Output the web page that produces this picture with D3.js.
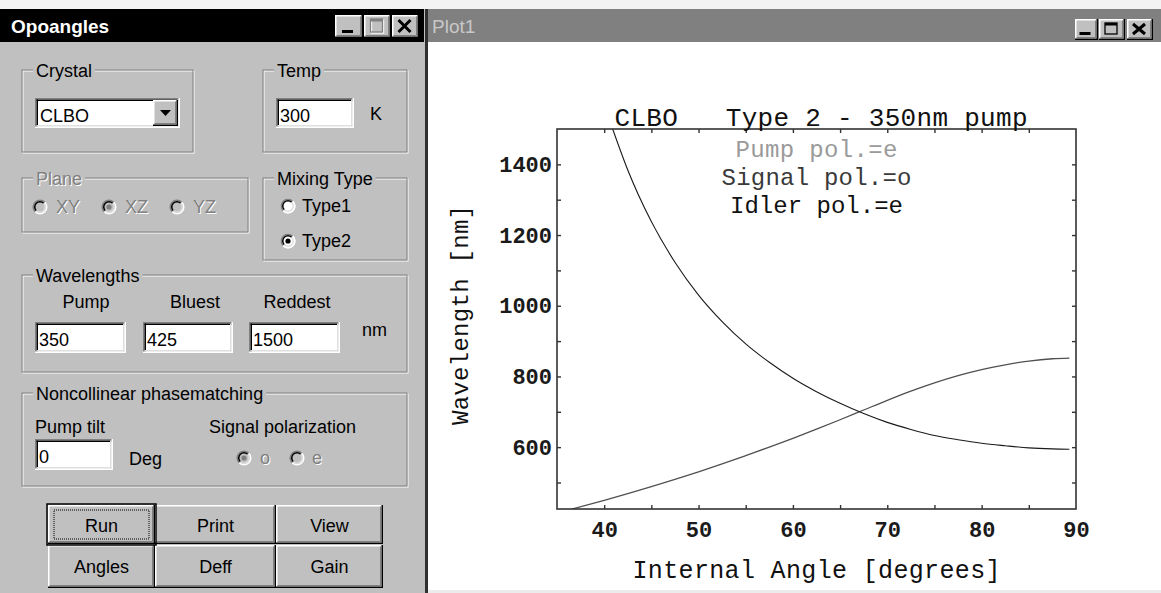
<!DOCTYPE html>
<html>
<head>
<meta charset="utf-8">
<title>Opoangles</title>
<script src="https://cdn.jsdelivr.net/npm/d3@7"></script>
<style>
  html, body { margin: 0; padding: 0; background: #fff; overflow: hidden; }
  svg { display: block; }
  .ui { font-family: "Liberation Sans", Arial, sans-serif; }
  .mono { font-family: "Liberation Mono", "DejaVu Sans Mono", monospace; }
</style>
</head>
<body>
<svg id="screen" width="1161" height="593"></svg>
<script>
// ---- Tuning curves (internal angle in degrees, wavelength in nm) ----
const signalAngle      = [36.6, 40, 42.5, 45, 47.5, 50, 52.5, 55, 57.5, 60, 62.5, 65, 67.5, 70, 72.5, 75, 77.5, 80, 82.5, 85, 87.5, 89.3];
const signalWavelength = [425, 449.5, 468.5, 488, 508.5, 530, 552.5, 576, 600, 625, 651, 677.5, 705, 732.5, 758.5, 782, 802.5, 819.5, 833, 843.5, 850, 852];
const idlerAngle       = [40.9, 42.5, 45, 47.5, 50, 52.5, 55, 57.5, 60, 62.5, 65, 67.5, 70, 72.5, 75, 77.5, 80, 82.5, 85, 87.5, 89.3];
const idlerWavelength  = [1500, 1384, 1238, 1123, 1030, 955, 892, 840, 795, 757, 724, 695, 670, 650, 633, 621, 611, 604, 598, 595, 594];

// ---- Axes ----
const angleDomain      = [35, 90];
const wavelengthDomain = [425, 1500];
const angleTickLabels  = [40, 50, 60, 70, 80, 90];
const angleTickMarks   = [40, 45, 50, 55, 60, 65, 70, 75, 80, 85];
const wlTickLabels     = [600, 800, 1000, 1200, 1400];
const wlTickMarks      = [500, 600, 700, 800, 900, 1000, 1100, 1200, 1300, 1400];

// ---- Texts ----
const plotTitle   = "CLBO   Type 2 - 350nm pump";
const legendLines = ["Pump pol.=e", "Signal pol.=o", "Idler pol.=e"];
const xAxisTitle  = "Internal Angle [degrees]";
const yAxisTitle  = "Wavelength [nm]";

const svg = d3.select("#screen");
const W = 1161, H = 593;

// ---------- small widget helpers ----------
function line(g, x1, y1, x2, y2, c, w = 1.5) {
  g.append("line").attr("x1", x1).attr("y1", y1).attr("x2", x2).attr("y2", y2)
    .attr("stroke", c).attr("stroke-width", w);
}
function text(g, x, y, s, opt = {}) {
  const t = g.append("text").attr("class", opt.cls || "ui").attr("x", x).attr("y", y)
    .attr("fill", opt.fill || "#000").attr("font-size", opt.size || 18).text(s);
  if (opt.anchor) t.attr("text-anchor", opt.anchor);
  if (opt.weight) t.attr("font-weight", opt.weight);
  return t;
}
function disabledText(g, x, y, s, opt = {}) {
  text(g, x + 1, y + 1, s, Object.assign({}, opt, { fill: "#fff" }));
  return text(g, x, y, s, Object.assign({}, opt, { fill: "#808080" }));
}
function raised(g, x, y, w, h) {
  g.append("rect").attr("x", x).attr("y", y).attr("width", w).attr("height", h).attr("fill", "#c0c0c0");
  line(g, x, y + 0.75, x + w, y + 0.75, "#fff");
  line(g, x + 0.75, y, x + 0.75, y + h, "#fff");
  line(g, x, y + h - 0.75, x + w, y + h - 0.75, "#000");
  line(g, x + w - 0.75, y, x + w - 0.75, y + h, "#000");
  line(g, x + 1.5, y + h - 2.25, x + w - 1.5, y + h - 2.25, "#808080");
  line(g, x + w - 2.25, y + 1.5, x + w - 2.25, y + h - 1.5, "#808080");
}
function sunken(g, x, y, w, h) {
  g.append("rect").attr("x", x).attr("y", y).attr("width", w).attr("height", h).attr("fill", "#fff");
  line(g, x, y + 0.75, x + w, y + 0.75, "#808080");
  line(g, x + 0.75, y, x + 0.75, y + h, "#808080");
  line(g, x + 1.5, y + 2.25, x + w - 1.5, y + 2.25, "#000");
  line(g, x + 2.25, y + 1.5, x + 2.25, y + h - 1.5, "#000");
  line(g, x, y + h - 0.75, x + w, y + h - 0.75, "#fff");
  line(g, x + w - 0.75, y, x + w - 0.75, y + h, "#fff");
  line(g, x + 1.5, y + h - 2.25, x + w - 1.5, y + h - 2.25, "#dfdfdf");
  line(g, x + w - 2.25, y + 1.5, x + w - 2.25, y + h - 1.5, "#dfdfdf");
}
function groupBox(g, x1, y1, x2, y2, label, disabled) {
  g.append("rect").attr("x", x1 + 1).attr("y", y1 + 1).attr("width", x2 - x1).attr("height", y2 - y1)
    .attr("fill", "none").attr("stroke", "#fff").attr("stroke-width", 1);
  g.append("rect").attr("x", x1).attr("y", y1).attr("width", x2 - x1).attr("height", y2 - y1)
    .attr("fill", "none").attr("stroke", "#808080").attr("stroke-width", 1);
  const bg = g.append("rect").attr("fill", "#c0c0c0");
  const t = disabled ? disabledText(g, x1 + 14, y1 + 7, label) : text(g, x1 + 14, y1 + 7, label);
  const len = t.node().getComputedTextLength();
  bg.attr("x", x1 + 11).attr("y", y1 - 8).attr("width", len + 6).attr("height", 16);
}
function radio(g, cx, cy, checked, disabled) {
  const r = 7.5;
  const at = g.append("g").attr("transform", `translate(${cx},${cy})`);
  at.append("circle").attr("r", r).attr("fill", disabled ? "#c0c0c0" : "#fff");
  const outer = d3.arc().innerRadius(r - 1.5).outerRadius(r);
  const inner = d3.arc().innerRadius(r - 3).outerRadius(r - 1.5);
  at.append("path").attr("d", outer({ startAngle: -3 * Math.PI / 4, endAngle: Math.PI / 4 })).attr("fill", "#808080");
  at.append("path").attr("d", inner({ startAngle: -3 * Math.PI / 4, endAngle: Math.PI / 4 })).attr("fill", "#000");
  at.append("path").attr("d", outer({ startAngle: Math.PI / 4, endAngle: 5 * Math.PI / 4 })).attr("fill", "#fff");
  at.append("path").attr("d", inner({ startAngle: Math.PI / 4, endAngle: 5 * Math.PI / 4 })).attr("fill", "#dfdfdf");
  if (checked) at.append("circle").attr("r", 2.6).attr("fill", disabled ? "#808080" : "#000");
}
function captionButton(g, x, y, w, h, kind, disabled) {
  raised(g, x, y, w, h);
  const col = disabled ? "#808080" : "#000";
  const cx = x + w / 2 - 1;
  if (kind === "min") {
    g.append("rect").attr("x", cx - 6).attr("y", y + h - 8).attr("width", 11).attr("height", 3).attr("fill", col);
  } else if (kind === "max") {
    if (disabled) {
      g.append("rect").attr("x", cx - 5).attr("y", y + 5).attr("width", 12).attr("height", h - 10)
        .attr("fill", "none").attr("stroke", "#fff").attr("stroke-width", 1.3);
    }
    g.append("rect").attr("x", cx - 6).attr("y", y + 4).attr("width", 12).attr("height", h - 10)
      .attr("fill", "none").attr("stroke", col).attr("stroke-width", 1.3);
    g.append("rect").attr("x", cx - 6).attr("y", y + 4).attr("width", 12).attr("height", 2.5).attr("fill", col);
  } else {
    g.append("path").attr("d", `M${cx - 6},${y + 5}L${cx + 6},${y + h - 6}M${cx + 6},${y + 5}L${cx - 6},${y + h - 6}`)
      .attr("stroke", col).attr("stroke-width", 3).attr("fill", "none");
  }
}

// ---------- desktop ----------
svg.append("rect").attr("width", W).attr("height", H).attr("fill", "#fff");
svg.append("rect").attr("width", W).attr("height", 9).attr("fill", "#f3f3f3");

// ---------- Opoangles dialog ----------
const dlg = svg.append("g");
dlg.append("rect").attr("x", 0).attr("y", 9).attr("width", 425).attr("height", H - 9).attr("fill", "#c0c0c0");
dlg.append("rect").attr("x", 0).attr("y", 9).attr("width", 424).attr("height", 33).attr("fill", "#000");
text(dlg, 11, 33, "Opoangles", { fill: "#fff", weight: "bold", size: 19 });
captionButton(dlg, 335, 15, 28, 23, "min");
captionButton(dlg, 364, 15, 27, 23, "max", true);
captionButton(dlg, 392, 15, 27, 23, "close");

// Crystal
groupBox(dlg, 22, 70, 193, 152, "Crystal");
sunken(dlg, 35, 98, 145, 30);
raised(dlg, 153, 100, 25, 26);
dlg.append("path").attr("d", "M160,110L171,110L165.5,116Z").attr("fill", "#000");
text(dlg, 40, 122, "CLBO");

// Temp
groupBox(dlg, 263, 70, 407, 152, "Temp");
sunken(dlg, 276, 98, 78, 30);
text(dlg, 280, 122, "300");
text(dlg, 370, 120, "K");

// Plane (disabled)
groupBox(dlg, 22, 178, 248, 232, "Plane", true);
[[40, "XY", false], [109, "XZ", true], [177, "YZ", false]].forEach(([cx, s, c]) => {
  radio(dlg, cx, 207, c, true);
  disabledText(dlg, cx + 16, 213, s);
});

// Mixing Type
groupBox(dlg, 263, 178, 407, 260, "Mixing Type");
radio(dlg, 288, 206, false, false);
text(dlg, 302, 212, "Type1");
radio(dlg, 288, 241, true, false);
text(dlg, 302, 247, "Type2");

// Wavelengths
groupBox(dlg, 22, 275, 407, 372, "Wavelengths");
text(dlg, 86, 308, "Pump", { anchor: "middle" });
text(dlg, 195, 308, "Bluest", { anchor: "middle" });
text(dlg, 297, 308, "Reddest", { anchor: "middle" });
[[35, 91, "350"], [143, 90, "425"], [249, 91, "1500"]].forEach(([x, w, v]) => {
  sunken(dlg, x, 322, w, 31);
  text(dlg, x + 4, 346, v);
});
text(dlg, 362, 336, "nm");

// Noncollinear phasematching
groupBox(dlg, 22, 393, 407, 486, "Noncollinear phasematching");
text(dlg, 35, 433, "Pump tilt");
text(dlg, 209, 433, "Signal polarization");
sunken(dlg, 35, 439, 78, 31);
text(dlg, 39, 463, "0");
text(dlg, 129, 465, "Deg");
radio(dlg, 244, 458, true, true);
disabledText(dlg, 260, 464, "o");
radio(dlg, 297, 458, false, true);
disabledText(dlg, 312, 464, "e");

// Buttons
[[48, 505, 107, 39, "Run"], [155, 505, 121, 39, "Print"], [276, 505, 107, 39, "View"],
 [48, 545, 107, 43, "Angles"], [155, 545, 121, 43, "Deff"], [276, 545, 107, 43, "Gain"]]
  .forEach(([x, y, w, h, s]) => {
    raised(dlg, x, y, w, h);
    text(dlg, x + w / 2, y + (h > 40 ? 28 : 27), s, { anchor: "middle" });
  });
dlg.append("rect").attr("x", 47).attr("y", 504).attr("width", 109).attr("height", 41)
  .attr("fill", "none").attr("stroke", "#000").attr("stroke-width", 1.5);
dlg.append("rect").attr("x", 54).attr("y", 510).attr("width", 95).attr("height", 29)
  .attr("fill", "none").attr("stroke", "#000").attr("stroke-width", 1).attr("stroke-dasharray", "1,1");

// window edge between the two frames
svg.append("rect").attr("x", 425).attr("y", 9).attr("width", 3).attr("height", H - 9).attr("fill", "#303030");

// ---------- Plot1 window ----------
const pw = svg.append("g");
pw.append("rect").attr("x", 428).attr("y", 9).attr("width", W - 428).attr("height", 33).attr("fill", "#808080");
text(pw, 432, 33, "Plot1", { fill: "#c8c8c8", size: 19 });
captionButton(pw, 1075, 19, 23, 21, "min");
captionButton(pw, 1099, 19, 26, 21, "max");
captionButton(pw, 1127, 19, 26, 21, "close");
pw.append("rect").attr("x", 428).attr("y", 590).attr("width", W - 428).attr("height", 3).attr("fill", "#ececec");

// ---------- chart ----------
const x = d3.scaleLinear().domain(angleDomain).range([557, 1076]);
const y = d3.scaleLinear().domain(wavelengthDomain).range([509, 129]);
const chart = pw.append("g");

chart.append("defs").append("clipPath").attr("id", "frame")
  .append("rect").attr("x", x(angleDomain[0])).attr("y", y(wavelengthDomain[1]))
  .attr("width", x(angleDomain[1]) - x(angleDomain[0])).attr("height", y(wavelengthDomain[0]) - y(wavelengthDomain[1]));

const lineGen = d3.line().x(d => x(d[0])).y(d => y(d[1])).curve(d3.curveMonotoneX);
const signal = d3.zip(signalAngle, signalWavelength);
const idler  = d3.zip(idlerAngle, idlerWavelength);
const curves = chart.append("g").attr("clip-path", "url(#frame)").attr("fill", "none");
curves.append("path").attr("d", lineGen(signal)).attr("stroke", "#505050").attr("stroke-width", 1.3);
curves.append("path").attr("d", lineGen(idler)).attr("stroke", "#1a1a1a").attr("stroke-width", 1.1);

// inward tick marks on all four sides
function marks(axis, tx, ty) {
  const g = chart.append("g").attr("transform", `translate(${tx},${ty})`).call(axis);
  g.select(".domain").remove();
  g.selectAll(".tick line").attr("stroke", "#333").attr("stroke-width", 1.4);
  return g;
}
marks(d3.axisBottom(x).tickValues(angleTickMarks).tickSizeInner(-4).tickSizeOuter(0).tickFormat(""), 0, y.range()[0]);
marks(d3.axisTop(x).tickValues(angleTickMarks).tickSizeInner(-4).tickSizeOuter(0).tickFormat(""), 0, y.range()[1]);
marks(d3.axisLeft(y).tickValues(wlTickMarks).tickSizeInner(-4).tickSizeOuter(0).tickFormat(""), x.range()[0], 0);
marks(d3.axisRight(y).tickValues(wlTickMarks).tickSizeInner(-4).tickSizeOuter(0).tickFormat(""), x.range()[1], 0);

// frame
chart.append("rect").attr("x", x.range()[0]).attr("y", y.range()[1])
  .attr("width", x.range()[1] - x.range()[0]).attr("height", y.range()[0] - y.range()[1])
  .attr("fill", "none").attr("stroke", "#333").attr("stroke-width", 1.6);

// tick labels
function labels(axis, tx, ty) {
  const g = chart.append("g").attr("transform", `translate(${tx},${ty})`).call(axis);
  g.select(".domain").remove();
  g.selectAll(".tick line").remove();
  g.attr("font-family", null).attr("font-size", null);
  g.selectAll(".tick text").attr("class", "mono").attr("font-size", 22).attr("font-weight", "bold").attr("fill", "#1a1a1a");
  return g;
}
labels(d3.axisBottom(x).tickValues(angleTickLabels).tickSize(0).tickPadding(12).tickFormat(d3.format("d")), 0, y.range()[0]);
labels(d3.axisLeft(y).tickValues(wlTickLabels).tickSize(0).tickPadding(5).tickFormat(d3.format("d")), x.range()[0], 0);

// titles
const cx = (x.range()[0] + x.range()[1]) / 2;
text(chart, 821, 126, plotTitle, { cls: "mono", anchor: "middle", size: 26, fill: "#111" })
  .attr("textLength", 413).attr("lengthAdjust", "spacing").style("white-space", "pre");
text(chart, cx, 578, xAxisTitle, { cls: "mono", anchor: "middle", size: 25, fill: "#111" })
  .attr("textLength", 368).attr("lengthAdjust", "spacing");
text(chart, 0, 0, yAxisTitle, { cls: "mono", anchor: "middle", size: 24, fill: "#111" })
  .attr("transform", "translate(468,315) rotate(-90)")
  .attr("textLength", 220).attr("lengthAdjust", "spacing");

// polarization legend
const legendColors = ["#9a9a9a", "#3a3a3a", "#111"];
const legendWidths = [162, 190, 173];
const legendBase = [157, 185, 213];
legendLines.forEach((s, i) => {
  text(chart, cx, legendBase[i], s, { cls: "mono", anchor: "middle", size: 24, fill: legendColors[i] })
    .attr("textLength", legendWidths[i]).attr("lengthAdjust", "spacing");
});
</script>
</body>
</html>
